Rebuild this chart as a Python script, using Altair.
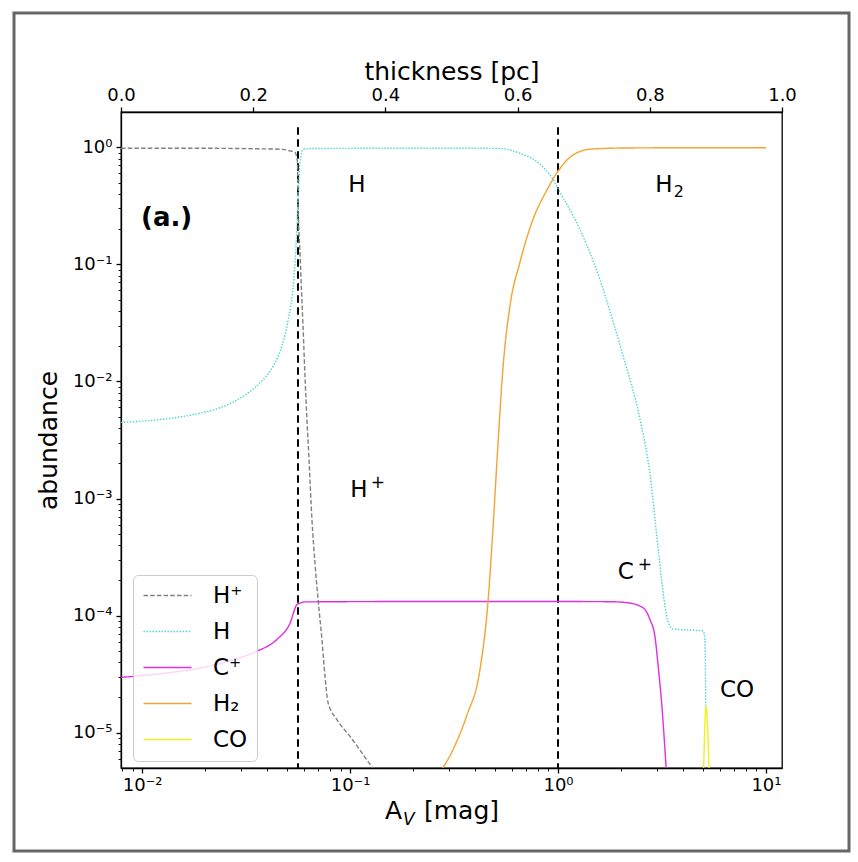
import altair as alt
import pandas as pd

# ---------------- data ----------------
species = ["H⁺", "H", "C⁺", "H₂", "CO"]
colors = ["#808080", "#45d3d3", "#e22ee2", "#f2a530", "#f0f020"]
dashes = [[4.5, 2.2], [1.4, 1.6], [1, 0], [1, 0], [1, 0]]

hp_av = [0.00792, 0.0190, 0.0369, 0.0476, 0.0515, 0.0544, 0.0559, 0.0562, 0.0575, 0.0595,
         0.0614, 0.0635, 0.0656, 0.0679, 0.0702, 0.0733, 0.0759, 0.0784, 0.0866, 0.100,
         0.1117, 0.129, 0.147]
hp_ab = [0.98, 0.98, 0.97, 0.96, 0.93, 0.906, 0.744, 0.36, 0.122, 0.0278,
         7.0e-3, 2.15e-3, 6.6e-4, 2.74e-4, 1.37e-4, 6.2e-5, 2.95e-5, 1.81e-5, 1.29e-5, 9.3e-6,
         7.1e-6, 5.0e-6, 4.0e-6]

h_av = [0.00792, 0.01222, 0.01766, 0.0237, 0.0307, 0.0369, 0.0427, 0.0470, 0.0505, 0.0531,
        0.0544, 0.0555, 0.0564, 0.0575, 0.0596, 0.0642, 0.15, 0.3, 0.422, 0.526,
        0.656, 0.819, 0.946, 1.022, 1.18, 1.378, 1.59, 1.778, 2.053, 2.48,
        2.77, 2.98, 3.15, 3.27, 3.38, 3.49, 3.57, 4.98, 5.09, 5.13]
h_ab = [4.47e-3, 4.73e-3, 5.22e-3, 5.96e-3, 7.48e-3, 9.75e-3, 0.0135, 0.0200, 0.0339, 0.0611,
        0.1035, 0.199, 0.384, 0.740, 0.962, 0.975, 0.98, 0.98, 0.98, 0.975,
        0.889, 0.716, 0.532, 0.412, 0.262, 0.145, 0.0744, 0.0397, 0.01668, 4.73e-3,
        1.60e-3, 4.92e-4, 2.03e-4, 1.19e-4, 8.9e-5, 7.9e-5, 7.7e-5, 7.4e-5, 6.2e-5, 1.67e-5]

cp_av = [0.00792, 0.00908, 0.01315, 0.0190, 0.0275, 0.0356, 0.0444, 0.0515, 0.0555, 0.0575,
         0.0606, 0.2, 1.0, 1.8, 2.15, 2.56, 2.77, 2.93, 3.02, 3.16, 3.31, 3.38]
cp_ab = [2.97e-5, 3.03e-5, 3.24e-5, 3.57e-5, 4.21e-5, 4.96e-5, 6.24e-5, 8.65e-5, 1.24e-4, 1.28e-4,
         1.31e-4, 1.32e-4, 1.32e-4, 1.315e-4, 1.29e-4, 1.17e-4, 9.24e-5, 6.5e-5, 3.96e-5, 1.67e-5,
         5.0e-6, 2.7e-6]

h2_av = [0.243, 0.276, 0.313, 0.364, 0.422, 0.461, 0.487, 0.515, 0.545, 0.588,
         0.656, 0.758, 0.883, 1.0, 1.142, 1.425, 2.05, 4.0, 10.0]
h2_ab = [3.4e-6, 4.8e-6, 7.2e-6, 1.40e-5, 3.52e-5, 1.34e-4, 5.65e-4, 3.01e-3, 0.0137, 0.0446,
         0.104, 0.242, 0.429, 0.624, 0.821, 0.962, 0.985, 0.99, 0.99]

co_av = [5.0, 5.15, 5.34]
co_ab = [4.0e-6, 1.67e-5, 4.0e-6]

vline_av = [0.0562, 1.0]
vline_top = 1.48
vline_bottom = 1e-7

thick_ticks = [0.0, 0.2, 0.4, 0.6, 0.8, 1.0]

# in-plot labels: main glyphs, plus super/subscripts
ann_text = ["H", "H", "H", "C", "CO"]
ann_av = [0.108, 3.23, 0.1104, 2.12, 7.26]
ann_ab = [0.473, 0.473, 1.19e-3, 2.38e-4, 2.33e-5]
sub_text = ["2"]
sub_av = [3.23]
sub_ab = [0.473]
sup_text = ["+", "+"]
sup_av = [0.1104, 2.12]
sup_ab = [1.19e-3, 2.38e-4]

panel_text = ["(a.)"]
panel_av = [0.00989]
panel_ab = [0.247]

x_domain = [0.00792, 11.94]
y_domain = [5e-6, 2.0]

# ---------------- tables ----------------
rows = []
for name, avs, abs_ in zip(species, [hp_av, h_av, cp_av, h2_av, co_av],
                           [hp_ab, h_ab, cp_ab, h2_ab, co_ab]):
    for a, b in zip(avs, abs_):
        rows.append({"av": a, "ab": b, "species": name})
lines_df = pd.DataFrame(rows)
vl_df = pd.DataFrame({"av": vline_av, "top": [vline_top] * 2, "bot": [vline_bottom] * 2})
ann_df = pd.DataFrame({"t": ann_text, "av": ann_av, "ab": ann_ab})
sub_df = pd.DataFrame({"t": sub_text, "av": sub_av, "ab": sub_ab})
sup_df = pd.DataFrame({"t": sup_text, "av": sup_av, "ab": sup_ab})
panel_df = pd.DataFrame({"t": panel_text, "av": panel_av, "ab": panel_ab})
thick_df = pd.DataFrame({"t": [0.0, 1.0]})

FONT = "DejaVu Sans"
SUP = {"-": "⁻", "0": "⁰", "1": "¹", "2": "²", "3": "³", "4": "⁴", "5": "⁵"}


def pow_expr(exps):
    parts = []
    for e in exps:
        s = "10" + "".join(SUP[c] for c in str(e))
        parts.append(f"abs(log(datum.value)/LN10 - ({e})) < 0.001 ? '{s}'")
    return " : ".join(parts) + " : ''"


MAJOR = "abs(log(datum.value)/LN10 - round(log(datum.value)/LN10)) < 0.001"

x_ticks = [0.008, 0.009] + [m * 10.0 ** d for d in (-2, -1, 0) for m in range(1, 10)] + [10.0]
y_ticks = [m * 1e-6 for m in (6, 7, 8, 9)] + [m * 10.0 ** d for d in (-5, -4, -3, -2, -1) for m in range(1, 10)] + [1.0]

x_scale = alt.Scale(type="log", domain=x_domain, nice=False)
y_scale = alt.Scale(type="log", domain=y_domain, nice=False)

x_axis = alt.Axis(values=x_ticks, labelExpr=pow_expr([-2, -1, 0, 1]), title=None,
                  tickSize={"condition": {"test": MAJOR, "value": 5}, "value": 3},
                  tickWidth={"condition": {"test": MAJOR, "value": 1.3}, "value": 0.9},
                  labelFontSize=18, labelPadding=3, labelOverlap=False, labelFlush=False,
                  grid=False, tickColor="black", domainColor="black", domainWidth=1.3)
y_axis = alt.Axis(values=y_ticks, labelExpr=pow_expr([-5, -4, -3, -2, -1, 0]),
                  title="abundance", titleFontSize=25, titleFontWeight="normal",
                  titleX=-73, titleY=328, titleAngle=270, titleAlign="center", titleBaseline="middle",
                  tickSize={"condition": {"test": MAJOR, "value": 5}, "value": 3},
                  tickWidth={"condition": {"test": MAJOR, "value": 1.3}, "value": 0.9},
                  labelFontSize=18, labelPadding=4, labelOverlap=False, labelFlush=False,
                  grid=False, tickColor="black", domainColor="black", domainWidth=1.3)

legend = alt.Legend(title=None, orient="none", legendX=12, legendY=463,
                    symbolType="M-2.4,0H2.4", symbolSize=400, symbolStrokeWidth=1.5,
                    symbolOffset=14, labelOffset=34,
                    labelFont=FONT, labelFontSize=23, labelColor="black", rowPadding=12,
                    padding=9, fillColor="rgba(255,255,255,0.8)", strokeColor="#cccccc",
                    cornerRadius=5)

lines = alt.Chart(lines_df).mark_line(clip=True, strokeWidth=1.4, interpolate="monotone").encode(
    x=alt.X("av:Q", scale=x_scale, axis=x_axis),
    y=alt.Y("ab:Q", scale=y_scale, axis=y_axis),
    color=alt.Color("species:N", sort=species,
                    scale=alt.Scale(domain=species, range=colors), legend=legend),
    strokeDash=alt.StrokeDash("species:N", sort=species,
                              scale=alt.Scale(domain=species, range=dashes), legend=legend),
)

vlines = alt.Chart(vl_df).mark_rule(clip=True, color="black", strokeWidth=2,
                                    strokeDash=[7.5, 4.5]).encode(
    x=alt.X("av:Q", scale=x_scale),
    y=alt.Y("top:Q", scale=y_scale),
    y2="bot:Q",
)

ann = alt.Chart(ann_df).mark_text(font=FONT, fontSize=23, color="black",
                                  align="center", baseline="middle").encode(
    x=alt.X("av:Q", scale=x_scale), y=alt.Y("ab:Q", scale=y_scale), text="t:N")
sub = alt.Chart(sub_df).mark_text(font=FONT, fontSize=16, color="black", dx=15, dy=7,
                                  align="center", baseline="middle").encode(
    x=alt.X("av:Q", scale=x_scale), y=alt.Y("ab:Q", scale=y_scale), text="t:N")
sup = alt.Chart(sup_df).mark_text(font=FONT, fontSize=17, color="black", dx=19, dy=-7,
                                  align="center", baseline="middle").encode(
    x=alt.X("av:Q", scale=x_scale), y=alt.Y("ab:Q", scale=y_scale), text="t:N")

panel = alt.Chart(panel_df).mark_text(font=FONT, fontSize=26, fontWeight="bold", color="black",
                                      align="left", baseline="middle").encode(
    x=alt.X("av:Q", scale=x_scale), y=alt.Y("ab:Q", scale=y_scale), text="t:N")

inner = alt.layer(vlines, lines, ann, sub, sup, panel)

top = alt.Chart(thick_df).mark_point(opacity=0).encode(
    x=alt.X("t:Q", scale=alt.Scale(domain=[0, 1], nice=False),
            axis=alt.Axis(orient="top", values=thick_ticks, format=".1f",
                          title="thickness [pc]", titleFontSize=25, titleFontWeight="normal",
                          titleY=-41, titleBaseline="middle",
                          tickSize=5, tickWidth=1.3, labelFontSize=18, labelPadding=3,
                          labelFlush=False, grid=False, tickColor="black",
                          domainColor="black", domainWidth=1.3))
)

# x-axis title composed of text pieces (A with italic subscript V)
xt_df = pd.DataFrame({"k": [0]})
xt_a = alt.Chart(xt_df).mark_text(text="A", font=FONT, fontSize=25, align="left",
                                  baseline="alphabetic").encode(x=alt.value(264), y=alt.value(707))
xt_v = alt.Chart(xt_df).mark_text(text="V", font=FONT, fontSize=17, fontStyle="italic",
                                  align="left", baseline="alphabetic").encode(x=alt.value(282), y=alt.value(713))
xt_m = alt.Chart(xt_df).mark_text(text="[mag]", font=FONT, fontSize=25, align="left",
                                  baseline="alphabetic").encode(x=alt.value(303), y=alt.value(707))

frame = alt.Chart(xt_df).mark_rect(fill=None, fillOpacity=0, stroke="#666666", strokeWidth=3).encode(
    x=alt.value(-107), x2=alt.value(728), y=alt.value(-99), y2=alt.value(739))

chart = alt.layer(inner, top, xt_a, xt_v, xt_m, frame).resolve_scale(x="independent").properties(
    width=661, height=656,
    autosize=alt.AutoSizeParams(type="none"),
    padding={"left": 121, "top": 112, "right": 76, "bottom": 94},
    background="white",
).configure_view(stroke="black", strokeWidth=1.3).configure_axis(
    labelFont=FONT, titleFont=FONT, labelColor="black", titleColor="black"
).configure_text(font=FONT)

chart.save("out.html", embed_options={"renderer": "svg", "actions": False})
